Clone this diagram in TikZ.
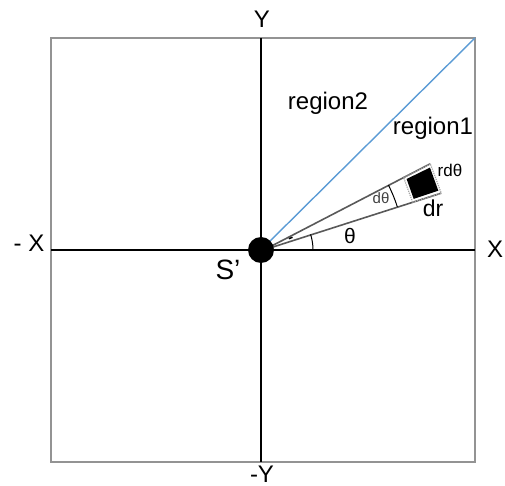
\documentclass[tikz,border=0pt]{standalone}
\usepackage{fontspec}
\setmainfont{Liberation Sans}
\usetikzlibrary{arrows.meta}
\tikzset{
  boxline/.style={draw=gray!85, line width=2pt},
  axisline/.style={draw=black, line width=1.6pt},
  wedgeline/.style={draw=gray!70!black, line width=1.6pt},
  bigtxt/.style={font=\fontsize{24}{27}\selectfont, inner sep=0pt},
}
\begin{document}
\begin{tikzpicture}[x=1pt,y=1pt]
\useasboundingbox (-261,250) rectangle (244,-236);
% frame
\node[inner sep=0pt] (O) at (0,0) {};
\coordinate (TL) at (-210,212);
\coordinate (BR) at (214,-212);
\draw[boxline] (TL) rectangle (BR);
% axes
\coordinate (Ytop) at (0,212);
\coordinate (Ybot) at (0,-212);
\coordinate (Xl) at (-210,0);
\coordinate (Xr) at (214,0);
\draw[axisline] (Ytop) -- (Ybot);
\draw[axisline] (Xl) -- (Xr);
% blue diagonal
\coordinate (Dg) at (214,212);
\draw[draw={rgb,255:red,91;green,155;blue,213}, line width=1.4pt] (O) -- (Dg);
% wedge
\coordinate (W1) at (17.5:189);
\coordinate (W2) at (27:190);
\draw[wedgeline] (6:4) -- (W1);
\draw[wedgeline] (8:4) -- (W2);
% element
\draw[draw=gray!70, line width=1.2pt, densely dotted] (17.5:159) -- (17.5:189) -- (27:190) -- (27:160) -- cycle;
\fill[black] (18.5:161) -- (18.5:187) -- (26:188) -- (26:162) -- cycle;
% arcs
\draw[black, line width=1pt] (52,0) arc[start angle=0, end angle=17.5, radius=52];
\draw[black, line width=1pt] (17.5:143) arc[start angle=17.5, end angle=27, radius=143];
% small mark
\draw[black, line width=1.5pt] (22:30) -- (22:34);
% origin dot
\fill[black] (O) circle[radius=13];
% labels
\node[bigtxt] (LY) at (1,231) {Y};
\node[bigtxt] (LnY) at (1,-224) {-Y};
\node[bigtxt] (LX) at (234,1) {X};
\node[bigtxt] (LnX) at (-232,7) {- X};
\node[inner sep=0pt, font=\fontsize{28}{30}\selectfont] (LS) at (-33,-20) {S\char39};
\node[bigtxt] (R2) at (67,147) {region2};
\node[bigtxt] (R1) at (172,122) {region1};
\node[inner sep=0pt, font=\fontsize{17}{20}\selectfont] (Lrd) at (189,80) {rdθ};
\node[inner sep=0pt, font=\fontsize{23}{25}\selectfont] (Ldr) at (172,42) {dr};
\node[inner sep=0pt, font=\fontsize{15}{17}\selectfont, text=black!75] (Ldt) at (120,52) {dθ};
\node[inner sep=0pt, font=\fontsize{21}{23}\selectfont] (Lt) at (89,14) {θ};
\end{tikzpicture}
\end{document}
